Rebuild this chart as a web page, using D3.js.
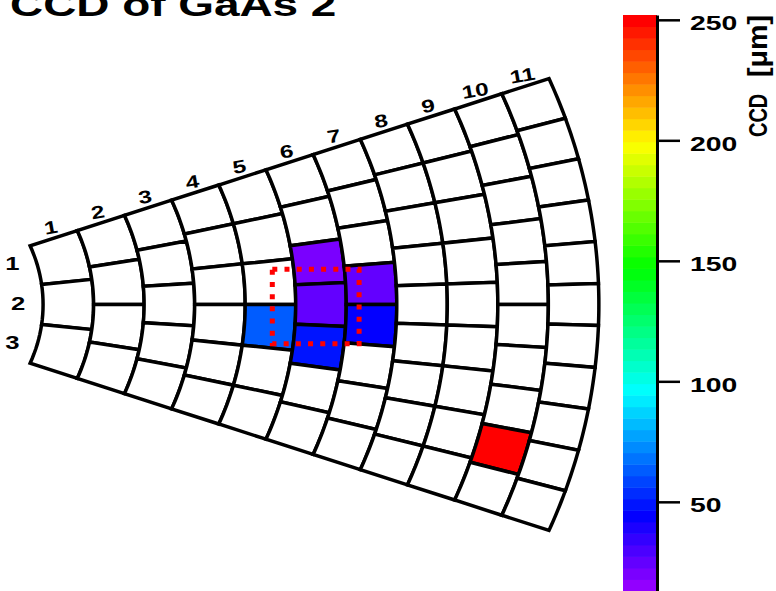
<!DOCTYPE html>
<html>
<head>
<meta charset="utf-8">
<script src="https://cdn.jsdelivr.net/npm/d3@7"></script>
<style>
  html, body { margin: 0; padding: 0; background: #fff; }
  svg { display: block; font-family: "Liberation Sans", Arial, sans-serif; font-weight: bold; }
</style>
</head>
<body>
<svg id="chart" width="776" height="591"></svg>
<script>
// Sensor layout: number of pads in each ring (ring 1 = innermost)
const ringLabels = ['1', '2', '3', '4', '5', '6', '7', '8', '9', '10', '11'];
const padsPerRing = [3, 4, 5, 6, 6, 7, 8, 9, 9, 10, 11];
const rowLabels = ['1', '2', '3'];

// Pads with a measured CCD (ring, pad counted from the top edge, value in um)
const hitRing = [5, 6, 6, 6, 7, 7, 10];
const hitPad = [4, 3, 4, 5, 4, 5, 9];
const hitValue = [64, 20, 26, 49, 24, 44, 250];

// Colour axis
const zRange = [13, 252];
const zMajorTicks = [50, 100, 150, 200, 250];
const zMinorTicks = d3.range(20, 250, 10).filter(v => v % 50 !== 0);

// Sensor geometry (mm / degrees)
const innerRadius = 20;
const ringWidth = 5.18;
const halfAngle = 21;

// Dotted marker box (mm)
const boxX = [43.5, 52.4];
const boxY = [-4.8, 4.3];

const TEXT_STRETCH = 1.35; // picture was squeezed, glyphs look wide

const svg = d3.select('#chart');

// Plot scales: sector centre at (0,0)
const x = d3.scaleLinear().domain([0, 80]).range([-152, -152 + 80 * 9.754]);
const y = d3.scaleLinear().domain([-40, 40]).range([304.5 + 40 * 8.19, 304.5 - 40 * 8.19]);

// ROOT "pretty palette": 50 colours, violet -> red
const palette = d3.range(50).map(i => d3.hsl(280 - (i + 1) * 5.6, 1, 0.5).formatHex());
const colorOf = v => {
  const idx = Math.floor(50 * (v - zRange[0]) / (zRange[1] - zRange[0]));
  return palette[Math.max(0, Math.min(49, idx))];
};

const toRad = a => a * Math.PI / 180;
const polar = (r, a) => [x(r * Math.cos(toRad(a))), y(r * Math.sin(toRad(a)))];

// Build all pads
const pads = [];
padsPerRing.forEach((n, ri) => {
  const r0 = innerRadius + ri * ringWidth;
  const r1 = r0 + ringWidth;
  const step = 2 * halfAngle / n;
  for (let p = 0; p < n; p++) {
    const a0 = halfAngle - p * step;
    const a1 = a0 - step;
    const hit = hitRing.findIndex((r, k) => r === ri + 1 && hitPad[k] === p + 1);
    pads.push({ ring: ri + 1, pad: p + 1, r0, r1, a0, a1, value: hit >= 0 ? hitValue[hit] : null });
  }
});

const line = d3.line();
function padPath(d) {
  const pts = [];
  const N = 8;
  for (let k = 0; k <= N; k++) pts.push(polar(d.r1, d.a0 + (d.a1 - d.a0) * k / N));
  for (let k = 0; k <= N; k++) pts.push(polar(d.r0, d.a1 + (d.a0 - d.a1) * k / N));
  return line(pts) + 'Z';
}

svg.append('g')
  .selectAll('path')
  .data(pads)
  .enter().append('path')
  .attr('d', padPath)
  .attr('fill', d => d.value === null ? '#fff' : colorOf(d.value))
  .attr('stroke', '#000')
  .attr('stroke-width', 3.5)
  .attr('stroke-linejoin', 'miter');

// Dotted box
svg.append('rect')
  .attr('x', x(boxX[0]))
  .attr('y', y(boxY[1]))
  .attr('width', x(boxX[1]) - x(boxX[0]))
  .attr('height', y(boxY[0]) - y(boxY[1]))
  .attr('fill', 'none')
  .attr('stroke', '#ff0000')
  .attr('stroke-width', 5)
  .attr('stroke-dasharray', '5 7.2');

// Ring numbers along the upper edge
svg.append('g')
  .selectAll('g')
  .data(ringLabels)
  .enter().append('g')
  .attr('transform', (d, i) => {
    const [px, py] = polar(innerRadius + (i + 0.5) * ringWidth, halfAngle);
    return `translate(${px - 3},${py - 11}) rotate(-10) scale(${TEXT_STRETCH},1)`;
  })
  .append('text')
  .attr('text-anchor', 'middle')
  .attr('dy', '0.36em')
  .attr('font-size', 18)
  .text(d => d);

// Row numbers of the first ring
const firstStep = 2 * halfAngle / padsPerRing[0];
svg.append('g')
  .selectAll('g')
  .data(rowLabels)
  .enter().append('g')
  .attr('transform', (d, i) => {
    const [px, py] = polar(innerRadius, halfAngle - (i + 0.5) * firstStep);
    return `translate(${px - 25},${py - 1.5}) scale(${TEXT_STRETCH},1)`;
  })
  .append('text')
  .attr('text-anchor', 'middle')
  .attr('dy', '0.36em')
  .attr('font-size', 19)
  .text(d => d);

// Title (partly outside the picture, as in the source)
svg.append('g')
  .attr('transform', `translate(10,15.5) scale(${TEXT_STRETCH},1)`)
  .append('text')
  .attr('font-size', 34)
  .text('CCD of GaAs 2');

// Colour bar
const z = d3.scaleLinear().domain(zRange).range([591, 15]);
const dz = (zRange[1] - zRange[0]) / 50;
const barX = 623, barW = 34;

svg.append('g')
  .selectAll('rect')
  .data(palette)
  .enter().append('rect')
  .attr('x', barX)
  .attr('y', (d, i) => z(zRange[0] + (i + 1) * dz))
  .attr('width', barW)
  .attr('height', (d, i) => z(zRange[0] + i * dz) - z(zRange[0] + (i + 1) * dz) + 0.5)
  .attr('fill', d => d);

const axisG = svg.append('g').attr('transform', `translate(${barX + barW},0)`);
axisG.call(d3.axisRight(z).tickValues(zMinorTicks).tickSize(11).tickSizeOuter(0).tickFormat(''));
axisG.call(d3.axisRight(z).tickValues(zMajorTicks).tickSize(23).tickSizeOuter(0).tickFormat(''));
axisG.selectAll('.domain').attr('stroke', '#000').attr('stroke-width', 3);
axisG.selectAll('.tick line').attr('stroke', '#000').attr('stroke-width', 2.5);

svg.append('g')
  .selectAll('g')
  .data(zMajorTicks)
  .enter().append('g')
  .attr('transform', d => `translate(690,${z(d) + 10.5}) scale(${TEXT_STRETCH},1)`)
  .append('text')
  .attr('font-size', 21)
  .text(d => d);

// Colour axis title, rotated (glyphs widened across the text direction)
const zTitle = svg.append('g')
  .attr('transform', 'translate(767,137) rotate(-90) scale(1,1.25)')
  .append('text')
  .attr('font-size', 20);
zTitle.append('tspan').attr('x', 0).text('CCD');
zTitle.append('tspan').attr('x', 60).attr('font-size', 22)
  .attr('textLength', 62).attr('lengthAdjust', 'spacingAndGlyphs').text('[μm]');
</script>
</body>
</html>
